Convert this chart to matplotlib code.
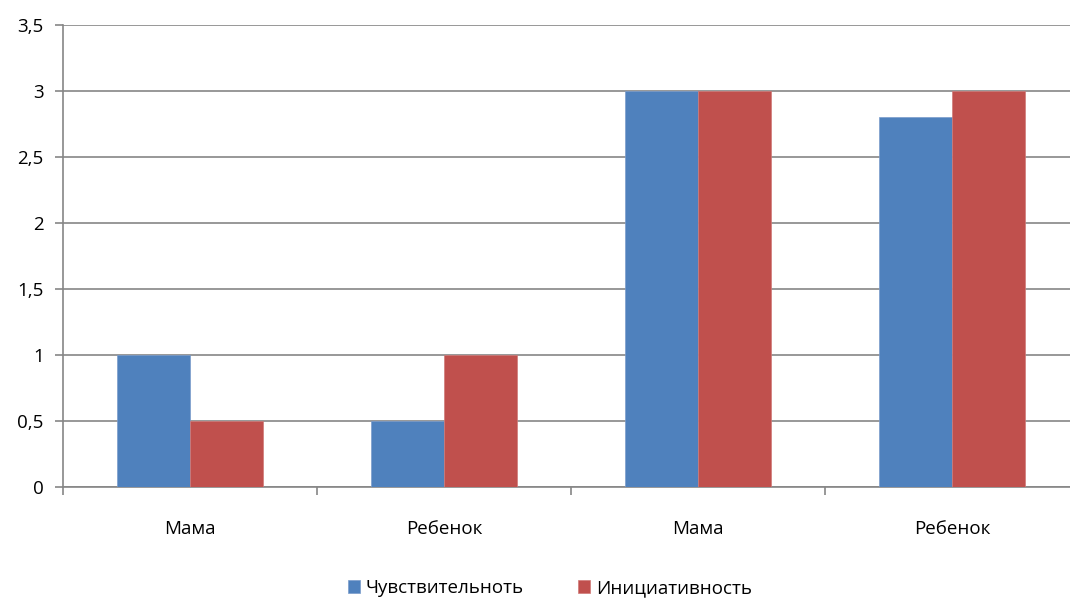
import matplotlib.pyplot as plt
import numpy as np
from matplotlib.ticker import FixedLocator, FuncFormatter

plt.rcParams['font.family'] = ['Open Sans', 'DejaVu Sans']

categories = ['Мама', 'Ребенок', 'Мама', 'Ребенок']
sensitivity = [1.0, 0.5, 3.0, 2.8]
initiative = [0.5, 1.0, 3.0, 3.0]
series_names = ['Чувствительноть', 'Инициативность']

blue = '#4F81BD'
red = '#C0504D'
grey = '#868686'

fig = plt.figure(figsize=(10.7, 5.99), dpi=100)
# plot area runs slightly past the right edge, like the source image
ax = fig.add_axes([63 / 1070, 1 - 487 / 599, (1079 - 63) / 1070, (487 - 25) / 599])

x = np.arange(len(categories))
w = 0.287
ax.bar(x - w / 2, sensitivity, w, color=blue, label=series_names[0], edgecolor='#7A9CCB', linewidth=0.5, zorder=3)
ax.bar(x + w / 2, initiative, w, color=red, label=series_names[1], edgecolor='#D07A78', linewidth=0.5, zorder=3)

ax.set_xlim(-0.5, len(categories) - 0.5)
ax.set_ylim(0, 3.5)
ax.set_yticks(np.arange(0, 3.51, 0.5))
ax.yaxis.set_major_formatter(FuncFormatter(lambda v, p: f'{v:g}'.replace('.', ',')))
ax.grid(axis='y', color=grey, linewidth=1.2, zorder=0)

ax.set_xticks(x)
ax.set_xticklabels(categories)
ax.xaxis.set_minor_locator(FixedLocator(np.arange(-0.5, len(categories), 1.0)))
ax.tick_params(axis='x', which='major', length=0, pad=24, labelsize=13.5)
ax.tick_params(axis='x', which='minor', length=6, color=grey, width=1.2, direction='out')
ax.tick_params(axis='y', length=6, color=grey, width=1.2, pad=8, labelsize=13.5)

for s in ['top', 'right']:
    ax.spines[s].set_visible(False)
for s in ['left', 'bottom']:
    ax.spines[s].set_color(grey)
    ax.spines[s].set_linewidth(1.2)

fig.legend(loc='center', bbox_to_anchor=(550 / 1070, 1 - 588 / 599), ncol=2, frameon=False,
           fontsize=13.5, handlelength=0.65, handleheight=0.65, handletextpad=0.3, columnspacing=2.9)

fig.savefig('out.png', dpi=100)
